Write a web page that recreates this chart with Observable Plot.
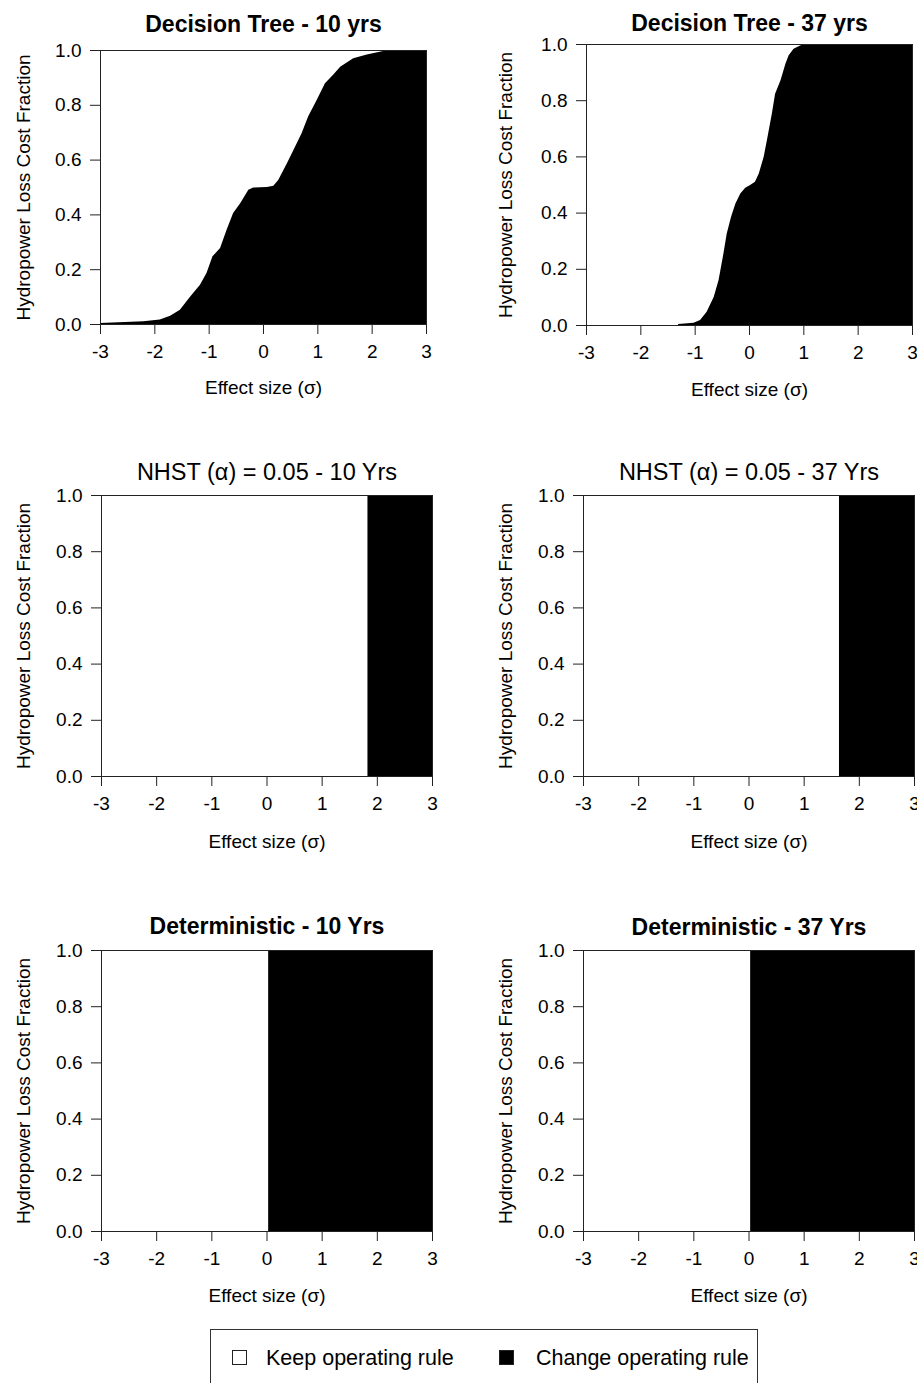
<!DOCTYPE html>
<html>
<head>
<meta charset="utf-8">
<script src="https://cdn.jsdelivr.net/npm/d3@7"></script>
<script src="https://cdn.jsdelivr.net/npm/@observablehq/plot@0.6"></script>
<style>
html, body { margin: 0; padding: 0; background: #fff; overflow: hidden; }
#root { position: relative; width: 917px; height: 1383px; overflow: hidden; background: #fff;
  font-family: "Liberation Sans", Arial, Helvetica, sans-serif; color: #000; }
.panel { position: absolute; }
.panel svg { max-width: none !important; display: block; }
#legend { position: absolute; left: 210px; top: 1329px; width: 548px; height: 80px;
  border: 1px solid #333; box-sizing: border-box; }
#legend .sw { position: absolute; top: 20px; width: 15px; height: 15px; box-sizing: border-box; border: 1.5px solid #222; }
#legend .lb { position: absolute; top: 18px; font-size: 21.5px; line-height: 21px; white-space: nowrap; }
</style>
</head>
<body>
<div id="root"></div>
<script>
// ---------------- data ----------------
const xDomain = [-3, 3];
const yDomain = [0, 1];
const xTicks = [-3, -2, -1, 0, 1, 2, 3];
const yTicks = [0, 0.2, 0.4, 0.6, 0.8, 1.0];
const xLabel = "Effect size (σ)";
const yLabel = "Hydropower Loss Cost Fraction";

const panelTitles = [
  "Decision Tree - 10 yrs", "Decision Tree - 37 yrs",
  "NHST (α) = 0.05 - 10 Yrs", "NHST (α) = 0.05 - 37 Yrs",
  "Deterministic - 10 Yrs", "Deterministic - 37 Yrs"
];

// Decision tree: fraction of cost (change operating rule) vs effect size
const dt10X = [-3, -2.2, -1.9, -1.71, -1.53, -1.34, -1.16, -1.04, -0.93, -0.79, -0.67, -0.55, -0.42, -0.27, -0.18, 0.07, 0.19, 0.28, 0.44, 0.56, 0.71, 0.83, 0.99, 1.14, 1.29, 1.42, 1.66, 1.91, 2.21, 3];
const dt10Y = [0.004, 0.01, 0.016, 0.03, 0.052, 0.10, 0.143, 0.186, 0.247, 0.277, 0.344, 0.405, 0.441, 0.49, 0.498, 0.50, 0.505, 0.526, 0.587, 0.635, 0.696, 0.757, 0.818, 0.879, 0.91, 0.939, 0.97, 0.984, 0.996, 1.0];

const dt37X = [-3, -1.31, -1.30, -1.02, -0.90, -0.78, -0.65, -0.56, -0.47, -0.41, -0.33, -0.25, -0.16, -0.07, 0.02, 0.11, 0.18, 0.27, 0.33, 0.42, 0.48, 0.58, 0.67, 0.73, 0.82, 0.94, 1.0, 3];
const dt37Y = [0, 0, 0.004, 0.008, 0.018, 0.047, 0.10, 0.16, 0.255, 0.326, 0.385, 0.432, 0.468, 0.488, 0.498, 0.51, 0.539, 0.599, 0.658, 0.752, 0.823, 0.871, 0.93, 0.96, 0.983, 0.995, 1.0, 1.0];

// Threshold effect sizes above which the rule is changed
const nhstCut = [1.83, 1.64];   // 10 yrs, 37 yrs
const detCut = [0.03, 0.03];    // 10 yrs, 37 yrs

const legendLabels = ["Keep operating rule", "Change operating rule"];
const legendFills = ["white", "black"];

// ---------------- layout ----------------
const FONT = "'Liberation Sans', Arial, Helvetica, sans-serif";
const layout = [
  {left: 0,   top: 0,   ml: 100, pw: 326, mt: 50, ph: 274, titleDy: 19, bold: true, ylabDx: 77, xlabDy: 69},
  {left: 460, top: 0,   ml: 126, pw: 326, mt: 44, ph: 281, titleDy: 14, bold: true, ylabDx: 81, xlabDy: 70},
  {left: 0,   top: 445, ml: 101, pw: 331, mt: 50, ph: 281, titleDy: 16, bold: false, ylabDx: 78, xlabDy: 71},
  {left: 460, top: 445, ml: 123, pw: 331, mt: 50, ph: 281, titleDy: 16, bold: false, ylabDx: 78, xlabDy: 71},
  {left: 0,   top: 900, ml: 101, pw: 331, mt: 50, ph: 281, titleDy: 17, bold: true, ylabDx: 78, xlabDy: 70},
  {left: 460, top: 900, ml: 123, pw: 331, mt: 50, ph: 281, titleDy: 16, bold: true, ylabDx: 78, xlabDy: 70}
];

function dataMark(i) {
  if (i === 0) return Plot.areaY(dt10X, {x: dt10X, y: dt10Y, fill: "black", curve: "linear"});
  if (i === 1) return Plot.areaY(dt37X, {x: dt37X, y: dt37Y, fill: "black", curve: "linear"});
  const cut = i < 4 ? nhstCut[i - 2] : detCut[i - 4];
  return Plot.rect([cut], {x1: d => d, x2: () => xDomain[1], y1: () => yDomain[0], y2: () => yDomain[1], fill: "black"});
}

const root = document.getElementById("root");
layout.forEach((L, i) => {
  const mr = 10, mb = 85;
  const width = L.ml + L.pw + mr;
  const height = L.mt + L.ph + mb;
  const chart = Plot.plot({
    width, height,
    marginLeft: L.ml, marginRight: mr, marginTop: L.mt, marginBottom: mb,
    x: {domain: xDomain},
    y: {domain: yDomain},
    style: {fontFamily: FONT, fontSize: "19px", color: "black", background: "none", overflow: "visible", maxWidth: "none"},
    marks: [
      dataMark(i),
      Plot.frame({stroke: "#222", strokeWidth: 1}),
      Plot.axisX({ticks: xTicks, tickSize: 10, tickPadding: 10, tickFormat: d => String(d), label: null, stroke: "#222"}),
      Plot.axisY({ticks: yTicks, tickSize: 10, tickPadding: 9, tickFormat: d => d.toFixed(1), label: null, stroke: "#222"}),
      Plot.text([panelTitles[i]], {frameAnchor: "top", text: d => d, dy: -L.titleDy, lineAnchor: "bottom",
        textAnchor: "middle", fontSize: L.bold ? 23 : 23.5, fontWeight: L.bold ? "bold" : "normal"}),
      Plot.text([xLabel], {frameAnchor: "bottom", text: d => d, dy: L.xlabDy, lineAnchor: "bottom",
        textAnchor: "middle", fontSize: 19}),
      Plot.text([yLabel], {frameAnchor: "left", text: d => d, rotate: -90, dx: -L.ylabDx, lineAnchor: "middle",
        textAnchor: "middle", fontSize: 19})
    ]
  });
  const div = document.createElement("div");
  div.className = "panel";
  div.style.left = L.left + "px";
  div.style.top = L.top + "px";
  div.style.width = width + "px";
  div.style.height = height + "px";
  div.appendChild(chart);
  root.appendChild(div);
});

// legend
const legend = document.createElement("div");
legend.id = "legend";
const swLeft = [21, 288];
const lbLeft = [55, 325];
legendLabels.forEach((lab, k) => {
  const sw = document.createElement("div");
  sw.className = "sw";
  sw.style.left = swLeft[k] + "px";
  sw.style.background = legendFills[k];
  legend.appendChild(sw);
  const lb = document.createElement("div");
  lb.className = "lb";
  lb.style.left = lbLeft[k] + "px";
  lb.textContent = lab;
  legend.appendChild(lb);
});
root.appendChild(legend);
</script>
</body>
</html>
